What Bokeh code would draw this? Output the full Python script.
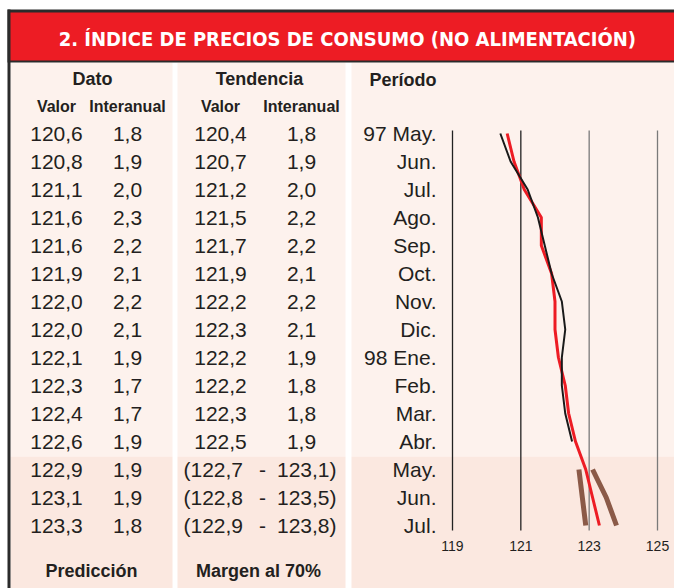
from bokeh.plotting import figure
from bokeh.models import Range1d
from bokeh.core.properties import value
from bokeh.embed import file_html
from bokeh.resources import INLINE

# ---------------- data ----------------
periods = ["97 May.", "Jun.", "Jul.", "Ago.", "Sep.", "Oct.", "Nov.", "Dic.",
           "98 Ene.", "Feb.", "Mar.", "Abr.", "May.", "Jun.", "Jul."]
dato_valor = [120.6, 120.8, 121.1, 121.6, 121.6, 121.9, 122.0, 122.0, 122.1, 122.3, 122.4, 122.6]
dato_interanual = [1.8, 1.9, 2.0, 2.3, 2.2, 2.1, 2.2, 2.1, 1.9, 1.7, 1.7, 1.9]
tend_valor = [120.4, 120.7, 121.2, 121.5, 121.7, 121.9, 122.2, 122.3, 122.2, 122.2, 122.3, 122.5]
tend_interanual = [1.8, 1.9, 2.0, 2.2, 2.2, 2.1, 2.2, 2.1, 1.9, 1.8, 1.8, 1.9]
pred_valor = [122.9, 123.1, 123.3]
pred_interanual = [1.9, 1.9, 1.8]
margen_low = [122.7, 122.8, 122.9]
margen_high = [123.1, 123.5, 123.8]
x_ticks = [119, 121, 123, 125]

title = "2.  ÍNDICE DE PRECIOS DE CONSUMO (NO ALIMENTACIÓN)"


def fmt(v):
    return f"{v:.1f}".replace(".", ",")


# ---------------- layout constants (picture pixels) ----------------
W, H = 674, 588
X0, X1 = 0, W
Y0, Y1 = 0, H
ROW0, ROWH = 133, 28
GX119, GX125 = 452, 657

FONT = value("Liberation Sans")
TXT = "#231f20"
RED = "#ed1c24"
BG1 = "#fdf2ed"
BG2 = "#fbe8e0"
BROWN = "#8b5a48"

p = figure(width=W, height=H, output_backend="svg", toolbar_location=None,
           x_range=Range1d(X0, X1), y_range=Range1d(Y1, Y0),
           x_axis_type=None, y_axis_type=None, min_border=0,
           background_fill_color="white", border_fill_color="white",
           outline_line_color=None)
p.grid.visible = False

k = (GX125 - GX119) / (x_ticks[-1] - x_ticks[0])
p.extra_x_ranges = {"val": Range1d(x_ticks[0] - (GX119 - X0) / k, x_ticks[0] + (X1 - GX119) / k)}
p.extra_y_ranges = {"row": Range1d((Y1 - ROW0) / ROWH, (Y0 - ROW0) / ROWH)}

# backgrounds
SPLIT = 456
cols = [(10, 172), (177, 345), (351, 700)]
for l, r in cols:
    p.quad(left=[l], right=[r], top=[62], bottom=[SPLIT], fill_color=BG1, line_color=None)
    p.quad(left=[l], right=[r], top=[SPLIT], bottom=[700], fill_color=BG2, line_color=None)

# frame & title bar
p.quad(left=[7], right=[700], top=[9], bottom=[62], fill_color="#2b2b2b", line_color=None)
p.quad(left=[7], right=[10], top=[9], bottom=[700], fill_color="#2b2b2b", line_color=None)
p.quad(left=[10], right=[700], top=[12], bottom=[60], fill_color=RED, line_color=None)
p.text(x=[350], y=[38], text=[title], text_font=value("DejaVu Sans Condensed"),
       text_font_style="bold", text_font_size="20px", text_color="white",
       text_align="center", text_baseline="middle")

# headers
p.text(x=[92, 259], y=[78, 78], text=["Dato", "Tendencia"], text_font=FONT,
       text_font_style="bold", text_font_size="18px", text_color=TXT,
       text_align="center", text_baseline="middle")
p.text(x=[369], y=[79], text=["Período"], text_font=FONT,
       text_font_style="bold", text_font_size="18px", text_color=TXT,
       text_align="left", text_baseline="middle")
p.text(x=[56, 127, 220, 301], y=[106] * 4, text=["Valor", "Interanual", "Valor", "Interanual"],
       text_font=FONT, text_font_style="bold", text_font_size="16px", text_color=TXT,
       text_align="center", text_baseline="middle")

# table rows
n = len(dato_valor)
rows_y = [ROW0 + ROWH * i for i in range(len(periods))]
num_kw = dict(text_font=FONT, text_font_size="21px", text_color=TXT, text_baseline="middle")
p.text(x=[56] * len(periods), y=rows_y, text=[fmt(v) for v in dato_valor + pred_valor],
       text_align="center", **num_kw)
p.text(x=[127] * len(periods), y=rows_y, text=[fmt(v) for v in dato_interanual + pred_interanual],
       text_align="center", **num_kw)
p.text(x=[220] * n, y=rows_y[:n], text=[fmt(v) for v in tend_valor], text_align="center", **num_kw)
p.text(x=[301] * n, y=rows_y[:n], text=[fmt(v) for v in tend_interanual], text_align="center", **num_kw)
m = len(margen_low)
p.text(x=[183] * m, y=rows_y[n:], text=["(" + fmt(v) for v in margen_low], text_align="left", **num_kw)
p.text(x=[262] * m, y=rows_y[n:], text=["-"] * m, text_align="center", **num_kw)
p.text(x=[336] * m, y=rows_y[n:], text=[fmt(v) + ")" for v in margen_high], text_align="right", **num_kw)
p.text(x=[436] * len(periods), y=rows_y, text=periods, text_align="right", **num_kw)

# footer
p.text(x=[91, 258], y=[570, 570], text=["Predicción", "Margen al 70%"], text_font=FONT,
       text_font_style="bold", text_font_size="18px", text_color=TXT,
       text_align="center", text_baseline="middle")

# chart: gridlines
g_top = (130 - ROW0) / ROWH
g_bot = (530 - ROW0) / ROWH
p.segment(x0=x_ticks, x1=x_ticks, y0=[g_top] * len(x_ticks), y1=[g_bot] * len(x_ticks),
          x_range_name="val", y_range_name="row",
          line_color=["#222222", "#222222", "#7a7a7a", "#7a7a7a"], line_width=1.3)
p.text(x=x_ticks, y=[(545 - ROW0) / ROWH] * len(x_ticks), text=[str(t) for t in x_ticks],
       x_range_name="val", y_range_name="row", text_font=FONT, text_font_size="14px",
       text_color=TXT, text_align="center", text_baseline="middle")

# chart: lines
rows = list(range(len(periods)))
p.line(x=margen_low, y=rows[n:], x_range_name="val", y_range_name="row",
       line_color=BROWN, line_width=5)
p.line(x=margen_high, y=rows[n:], x_range_name="val", y_range_name="row",
       line_color=BROWN, line_width=5)
p.line(x=dato_valor + pred_valor, y=rows, x_range_name="val", y_range_name="row",
       line_color=RED, line_width=3, line_join="round")
p.line(x=tend_valor, y=rows[:n], x_range_name="val", y_range_name="row",
       line_color="#1a1a1a", line_width=2, line_join="round")

open("out.html", "w").write(file_html(p, INLINE))
